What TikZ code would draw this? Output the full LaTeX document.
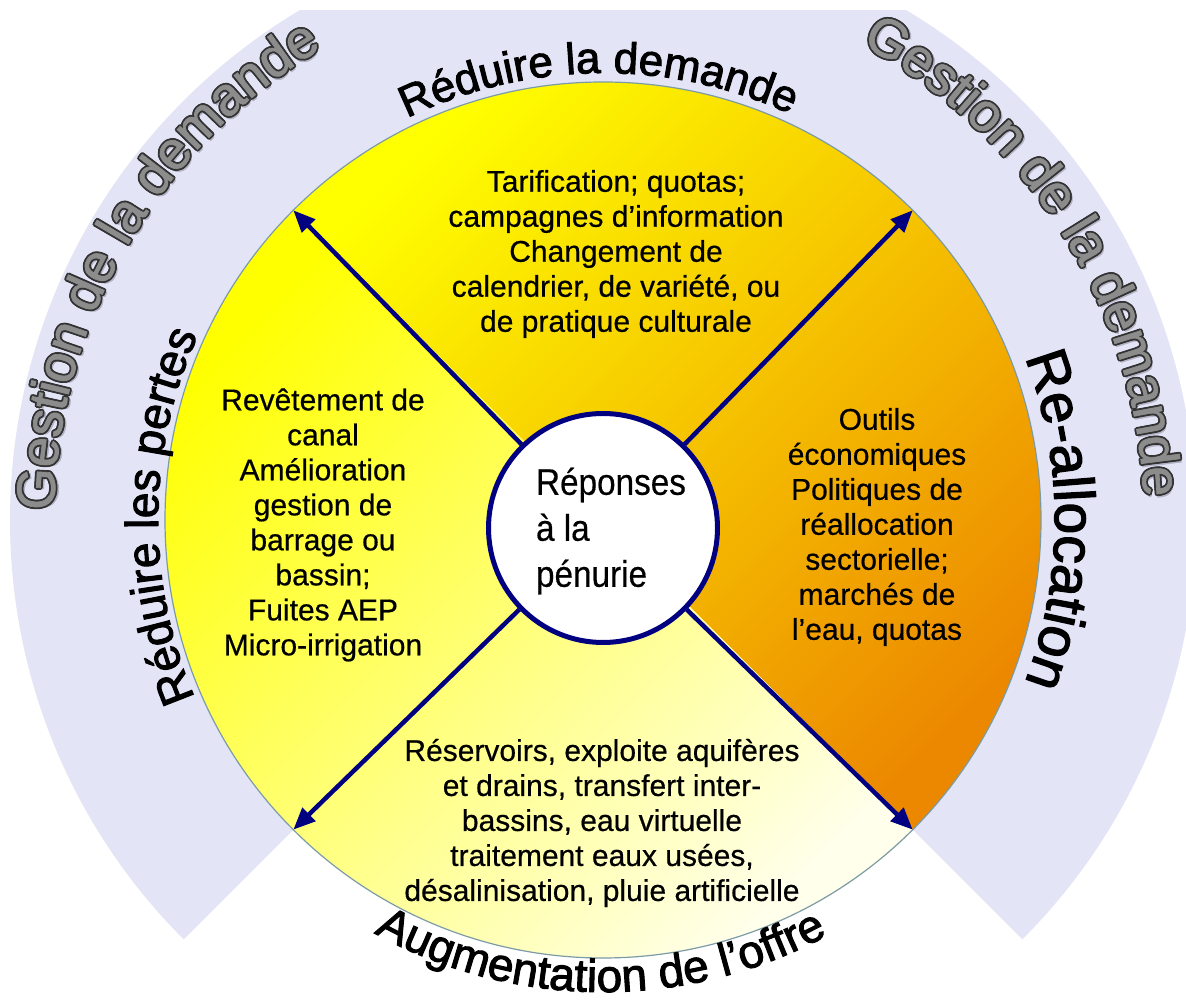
\documentclass[tikz,border=0pt]{standalone}
\usepackage{fontspec}
\setmainfont{Liberation Sans}
\newfontfamily\narrowsans[FakeStretch=0.9,FakeBold=0.4]{Liberation Sans}
\newfontfamily\heavysans[FakeBold=2.2]{Liberation Sans}
\newfontfamily\gestsans[FakeBold=1.2]{Liberation Sans}
\newfontfamily\blocksans[FakeBold=0.5]{Liberation Sans}
\usetikzlibrary{arrows.meta,decorations.text}

\definecolor{lav}{RGB}{227,228,246}
\definecolor{navy}{RGB}{0,0,128}
\definecolor{rim}{RGB}{125,155,165}
\definecolor{ylw}{RGB}{255,255,0}
\definecolor{gold}{RGB}{255,198,0}
\definecolor{orng}{RGB}{236,136,0}
\definecolor{paleA}{RGB}{255,255,150}
\definecolor{paleB}{RGB}{255,255,235}
\definecolor{gfill}{RGB}{140,140,140}
\definecolor{gline}{RGB}{50,50,50}
\definecolor{gshadow}{RGB}{178,178,196}

\newcommand\gfont{\gestsans\fontsize{54}{54}\selectfont}
% #1 centre angle, #2 colour, #3 raise, #4 baseline radius
\newcommand\gestion[4]{%
  \path[decorate,decoration={text along path,text color=#2,raise=#3,
    text align=center,text={|\gfont|Gestion de la demande}}]
    (#1+40:#4) arc[start angle=#1+40,end angle=#1-40,radius=#4];}

\begin{document}
\begin{tikzpicture}[x=1pt,y=1pt,
  arr/.style={draw=navy,line width=4.5pt,-{Triangle[length=22pt,width=18pt]}},
  blocktext/.style={align=center,font=\blocksans\fontsize{30}{35}\selectfont,inner sep=0pt},
  hubstyle/.style={circle,draw=navy,line width=5pt,fill=white,minimum size=229pt,inner sep=0pt}]
\fill[white] (0,0) rectangle (1186,1001);
\useasboundingbox (0,0) rectangle (1186,1001);
\coordinate (C) at (603,481);
\begin{scope}[shift={(C)}]
  % outer lavender band
  \begin{scope}
    \clip (-603,-481) rectangle (583,509);
    \fill[lav] (0,0) -- (225:593) arc[start angle=225,end angle=-45,radius=593] -- cycle;
  \end{scope}
  % main disc, two shaded halves
  \shade[top color=ylw,middle color=gold,bottom color=orng,shading angle=45]
    (0,0) -- (-45:438) arc[start angle=-45,end angle=135,radius=438] -- cycle;
  \shade[top color=ylw,middle color=paleA,bottom color=paleB,shading angle=45]
    (0,0) -- (135:438) arc[start angle=135,end angle=315,radius=438] -- cycle;
  \draw[rim,line width=1.2pt] (0,0) circle[radius=438];

  % arrow ends on the rim
  \coordinate (tNE) at (45:438);
  \coordinate (tNW) at (135:438);
  \coordinate (tSW) at (225:438);
  \coordinate (tSE) at (315:438);

  \node[hubstyle] (hub) at (0,-8) {};
  \draw[arr] (hub) -- (tNE);
  \draw[arr] (hub) -- (tNW);
  \draw[arr] (hub) -- (tSW);
  \draw[arr] (hub) -- (tSE);
  \node[align=left,inner sep=0pt,font=\narrowsans\fontsize{37}{46}\selectfont] (hubtext) at (8,-11)
    {Réponses\\à la\\pénurie};

  % text blocks
  \node[blocktext] (topblk) at (13,266)
    {Tarification; quotas;\\campagnes d’information\\Changement de\\calendrier, de variété, ou\\de pratique culturale};
  \node[blocktext] (leftblk) at (-280,-5)
    {Revêtement de\\canal\\Amélioration\\gestion de\\barrage ou\\bassin;\\Fuites AEP\\Micro-irrigation};
  \node[blocktext] (rightblk) at (274,-7)
    {Outils\\économiques\\Politiques de\\réallocation\\sectorielle;\\marchés de\\l’eau, quotas};
  \node[blocktext] (botblk) at (-1,-303)
    {Réservoirs, exploite aquifères\\et drains, transfert inter-\\bassins, eau virtuelle\\traitement eaux usées,\\désalinisation, pluie artificielle};

  % curved labels
  \path[decorate,decoration={text along path,text align=center,
    text={|\heavysans\fontsize{44}{44}\selectfont|Réduire la demande}}]
    (130.6:447) arc[start angle=130.6,end angle=50.6,radius=447];
  \path[decorate,decoration={text along path,text align=center,
    text={|\heavysans\fontsize{46}{46}\selectfont|Réduire les pertes}}]
    (219.5:445) arc[start angle=219.5,end angle=139.5,radius=445];
  \path[decorate,decoration={text along path,text align=center,
    text={|\heavysans\fontsize{57}{57}\selectfont|Re-allocation}}]
    (40:452) arc[start angle=40,end angle=-40,radius=452];
  \path[decorate,decoration={text along path,text align=center,
    text={|\heavysans\fontsize{46}{46}\selectfont|Augmentation de l’offre}}]
    (224.7:472) arc[start angle=224.7,end angle=314.7,radius=472];

  % outlined "Gestion de la demande" labels
  \gestion{150.0}{gshadow}{-3.4pt}{549}
  \foreach \da/\dr in {0.19/0pt,-0.19/0pt,0/1.8pt,0/-1.8pt,0.13/1.3pt,0.13/-1.3pt,-0.13/1.3pt,-0.13/-1.3pt}
    {\gestion{149.9+\da}{gline}{\dr}{549}}
  \gestion{149.9}{gfill}{0pt}{549}

  \gestion{31.65}{gshadow}{0.9pt}{541}
  \foreach \da/\dr in {0.19/0pt,-0.19/0pt,0/1.8pt,0/-1.8pt,0.13/1.3pt,0.13/-1.3pt,-0.13/1.3pt,-0.13/-1.3pt}
    {\gestion{32.0+\da}{gline}{\dr}{541}}
  \gestion{32.0}{gfill}{0pt}{541}
\end{scope}
\end{tikzpicture}
\end{document}
